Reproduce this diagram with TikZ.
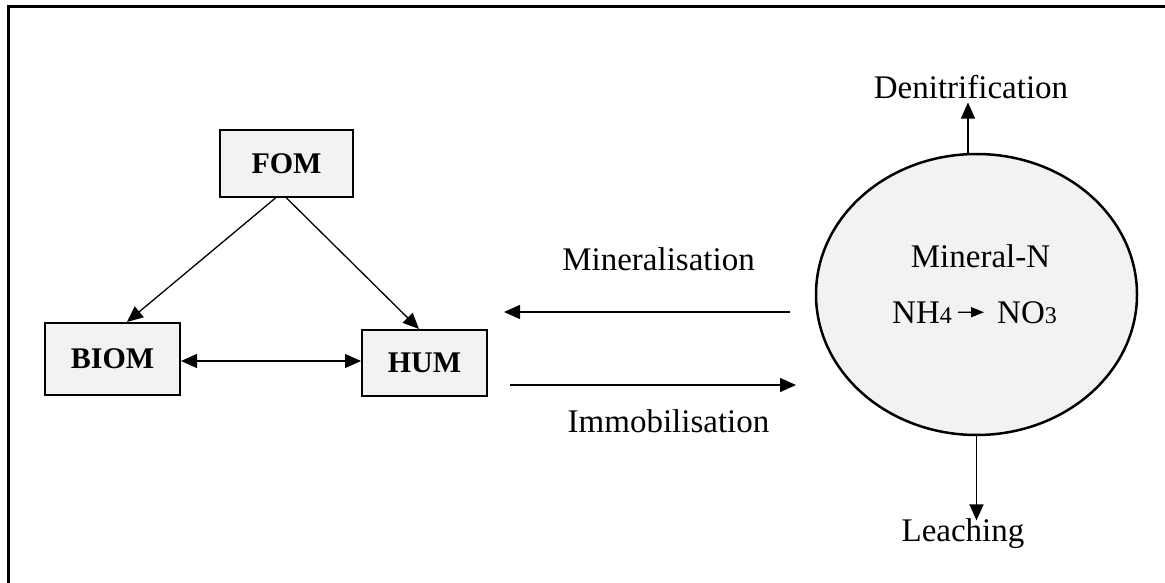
\documentclass[tikz,border=0pt]{standalone}
\usepackage{fontspec}
\setmainfont{Liberation Serif}
\usetikzlibrary{arrows.meta,shapes.geometric}
\definecolor{boxgray}{HTML}{F2F2F2}
\newcommand{\lowdigit}[1]{{\fontsize{24}{28}\selectfont #1}}

\begin{document}
\begin{tikzpicture}[x=1pt,y=-1pt,
        box/.style={draw,line width=2pt,fill=boxgray,inner sep=0pt,font=\fontsize{30}{34}\selectfont\bfseries},
        lbl/.style={inner sep=0pt,anchor=base,font=\fontsize{33}{38}\selectfont},
        flow/.style={line width=1.3pt,-{Triangle[length=16pt,width=14pt]}}]
        \useasboundingbox (0,0) rectangle (1165,583);
        % Frame (only top and left edges show)
        \draw[line width=3pt] (1165,7) -- (8,7) -- (8,583);

        % Organic pools
        \node[box,minimum width=133pt,minimum height=67pt] (fom) at (286.5,163.5) {FOM};
        \node[box,minimum width=135pt,minimum height=72pt] (biom) at (112.5,359) {BIOM};
        \node[box,minimum width=125pt,minimum height=66pt] (hum) at (424.5,363) {HUM};
        \draw[flow] ([xshift=-11pt]fom.south) -- ([xshift=14.5pt]biom.north);
        \draw[flow] (fom.south) -- ([xshift=-5.5pt]hum.north);
        \draw[flow,{Triangle[length=16pt,width=14pt]}-{Triangle[length=16pt,width=14pt]}] ([yshift=-2pt]biom.east) -- ([yshift=2pt]hum.west);

        % Mineral pool
        \node[draw,ellipse,line width=2.5pt,fill=boxgray,minimum width=321pt,minimum height=281pt,inner sep=0pt] (minN) at (976.5,294.5) {};
        \node[lbl] (minlabel) at (980.5,267) {Mineral-N};
        \node[lbl,anchor=base west] (nh) at (892,323) {NH\lowdigit{4}};
        \node[lbl,anchor=base west] (no) at (997,323) {NO\lowdigit{3}};
        \draw[line width=1.3pt,-{Triangle[length=13pt,width=10pt]}] ([xshift=6pt]nh.east) -- ([xshift=-13pt]no.west);

        % Losses
        \node[lbl] (denit) at (971,99) {Denitrification};
        \node[lbl] (leach) at (963,541) {Leaching};
        \draw[flow] ([xshift=-8.5pt]minN.north) -- ([xshift=-3pt,yshift=-3pt]denit.south);
        \draw[flow] (minN.south) -- ([yshift=-2.5pt]leach.north -| minN.south);

        % Exchange between pools
        \coordinate (minFrom) at (790,312);
        \coordinate (minTo) at (504,312);
        \coordinate (immFrom) at (510,385);
        \coordinate (immTo) at (796,385);
        \draw[flow] (minFrom) -- (minTo);
        \draw[flow] (immFrom) -- (immTo);
        \node[lbl] (minerl) at (658.5,270) {Mineralisation};
        \node[lbl] (immob) at (668.5,432) {Immobilisation};
\end{tikzpicture}
\end{document}
